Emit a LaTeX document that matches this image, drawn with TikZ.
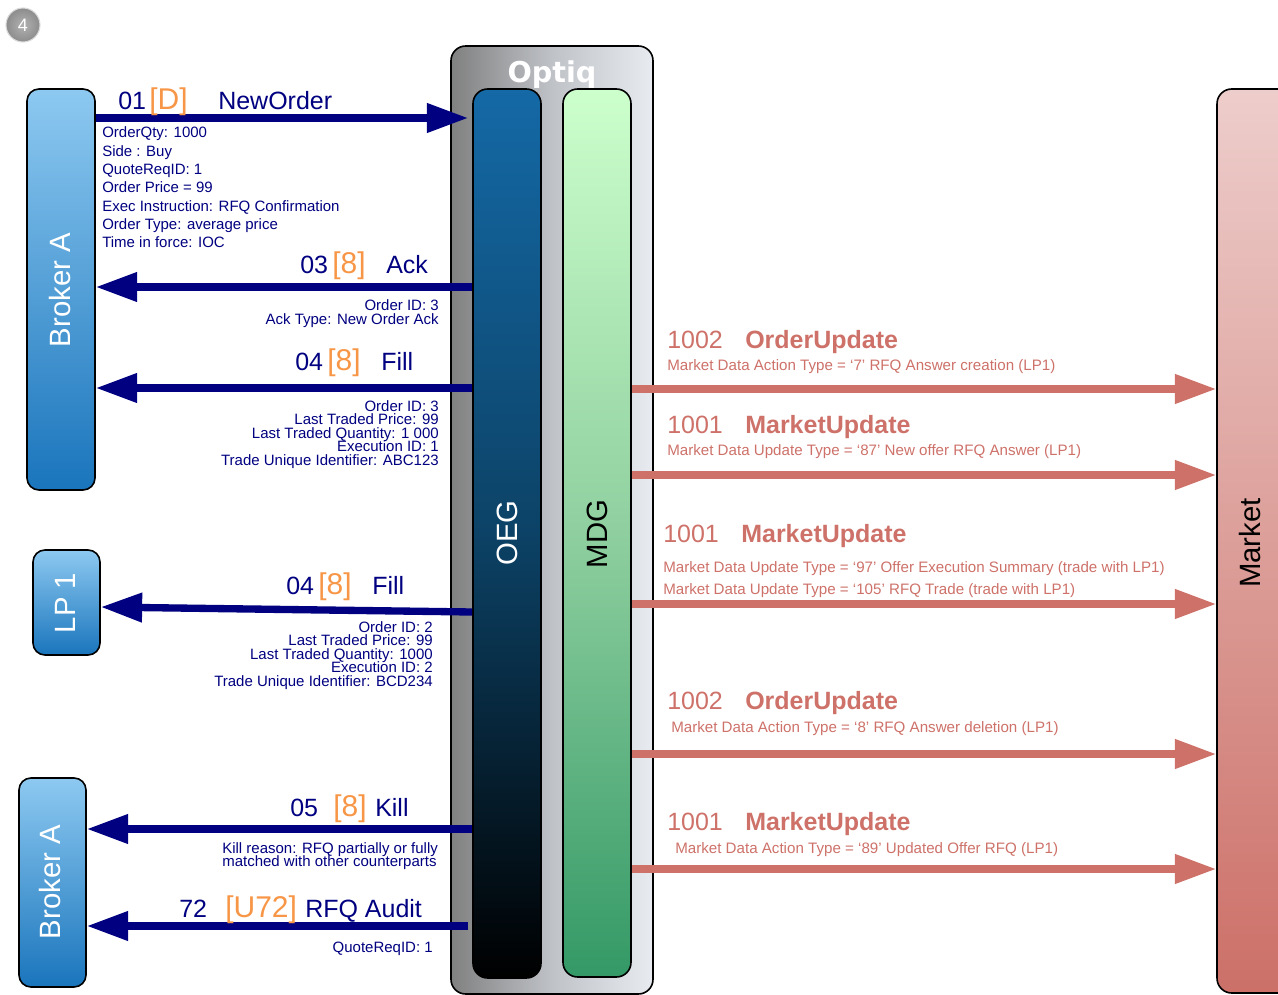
\documentclass[tikz,border=0pt]{standalone}
\usepackage{fontspec}
\setmainfont{Liberation Sans}
\newfontfamily\optiqfont{DejaVu Sans}
\usetikzlibrary{arrows.meta}
\definecolor{navyc}{HTML}{000080}
\definecolor{orangec}{HTML}{F79646}
\definecolor{redc}{HTML}{CD7169}
\definecolor{btop}{HTML}{8DC9F1}
\definecolor{bbot}{HTML}{1A75BC}
\definecolor{oegtop}{HTML}{1469A6}
\definecolor{oegmid}{HTML}{0C4266}
\definecolor{mdgtop}{HTML}{CCFFCC}
\definecolor{mdgmid}{HTML}{8FCF9F}
\definecolor{mdgbot}{HTML}{339966}
\definecolor{mkttop}{HTML}{EDCDCB}
\definecolor{mktbot}{HTML}{CC7068}
\definecolor{optl}{HTML}{808080}
\definecolor{optm}{HTML}{BFC2C7}
\definecolor{optr}{HTML}{E8ECF1}
\begin{document}
\begin{tikzpicture}[x=0.75pt,y=-0.75pt,
  box/.style={draw=black, line width=1.2pt, inner sep=0pt},
  broker/.style={box, rounded corners=9pt, top color=btop, bottom color=bbot},
  vlabel/.style={rotate=90, font=\fontsize{22}{24}\selectfont, inner sep=0pt},
  hd/.style={font=\fontsize{18.75}{20}\selectfont, inner sep=0pt, anchor=base west},
  navyhd/.style={hd, text=navyc},
  orhd/.style={hd, text=orangec, font=\fontsize{22.5}{24}\selectfont},
  redhd/.style={hd, text=redc},
  redbold/.style={hd, text=redc, font=\fontsize{18.75}{20}\selectfont\bfseries},
  det/.style={text=navyc, font=\fontsize{11.25}{13}\selectfont, inner sep=0pt},
  rdet/.style={text=redc, font=\fontsize{11.35}{13}\selectfont, inner sep=0pt, anchor=base west},
  navyarrow/.style={draw=navyc, line width=5.5pt, -{Triangle[length=31pt,width=21pt]}},
  redarrow/.style={draw=redc, line width=5.5pt, -{Triangle[length=31pt,width=21pt]}}
]
\useasboundingbox (0,0) rectangle (1278,995);

% step number
\node[circle, minimum size=25.5pt, inner sep=0pt, inner color=gray!60, outer color=gray!90,
      draw=gray!30, line width=0.8pt, text=white, font=\fontsize{13.5}{14}\selectfont] (num) at (23,25) {4};

% Optiq container
\node[box, rounded corners=11pt, minimum width=151.5pt, minimum height=711pt,
      left color=optl, right color=optr, middle color=optm] (optiq) at (552,520) {};
\node[font=\optiqfont\bfseries\fontsize{21.5}{24}\selectfont, text=white, anchor=base, inner sep=0pt] (optiqlabel) at (552,83) {Optiq};

% OEG and MDG
\node[box, rounded corners=11pt, minimum width=51pt, minimum height=666.75pt,
      top color=oegtop, bottom color=black, middle color=oegmid] (oeg) at (507,533.5) {};
\node[vlabel, text=white] (oeglabel) at (507,533) {OEG};
\node[box, rounded corners=11pt, minimum width=51pt, minimum height=666pt,
      top color=mdgtop, bottom color=mdgbot, middle color=mdgmid] (mdg) at (597,533) {};
\node[vlabel, text=black] (mdglabel) at (597,534) {MDG};

% Market
\node[box, rounded corners=11pt, minimum width=70pt, minimum height=678pt,
      top color=mkttop, bottom color=mktbot] (market) at (1263.7,541) {};
\node[vlabel, text=black] (mktlabel) at (1250,543) {Market};

% Participants
\node[broker, minimum width=51pt, minimum height=300.75pt] (brokerA) at (61,289.5) {};
\node[vlabel, text=white] (brokerAlabel) at (60,290) {Broker A};
\node[broker, minimum width=50.25pt, minimum height=78.75pt] (lp) at (66.5,602.5) {};
\node[vlabel, text=white] (lplabel) at (65,603) {LP 1};
\node[broker, minimum width=50.25pt, minimum height=156.75pt] (brokerB) at (52.5,882.5) {};
\node[vlabel, text=white] (brokerBlabel) at (50,882) {Broker A};

% Navy connectors
\draw[navyarrow, shorten >=3pt] (brokerA.east |- 0,118) -- (oeg.west |- 0,118);
\draw[navyarrow] (oeg.west |- 0,287) -- (brokerA.east |- 0,287);
\draw[navyarrow] (oeg.west |- 0,388) -- (brokerA.east |- 0,388);
\draw[navyarrow] (oeg.west |- 0,612) -- (lp.east |- 0,607);
\draw[navyarrow] (oeg.west |- 0,829) -- (brokerB.east |- 0,829);
\draw[navyarrow] ([xshift=-3pt]oeg.west |- 0,926) -- (brokerB.east |- 0,926);

% Red connectors
\foreach \yy [count=\k] in {389,475,604,754,869}
  \draw[redarrow] (mdg.east |- 0,\yy) -- (market.west |- 0,\yy);

% Navy headings
\node[navyhd] (h1a) at (118,110) {01};
\node[orhd]   (h1b) at (149,110) {[D]};
\node[navyhd] (h1c) at (218,110) {NewOrder};
\node[navyhd] (h2a) at (300,273) {03};
\node[orhd]   (h2b) at (332,273) {[8]};
\node[navyhd] (h2c) at (386,273) {Ack};
\node[navyhd] (h3a) at (295,370) {04};
\node[orhd]   (h3b) at (327,370) {[8]};
\node[navyhd] (h3c) at (381,370) {Fill};
\node[navyhd] (h4a) at (286,594) {04};
\node[orhd]   (h4b) at (318,594) {[8]};
\node[navyhd] (h4c) at (372,594) {Fill};
\node[navyhd] (h5a) at (290,816) {05};
\node[orhd]   (h5b) at (333,816) {[8]};
\node[navyhd] (h5c) at (375,816) {Kill};
\node[navyhd] (h6a) at (179,917) {72};
\node[orhd]   (h6b) at (225,917) {[U72]};
\node[navyhd] (h6c) at (305,917) {RFQ Audit};

% Navy details
\foreach \t [count=\i] in {OrderQty: 1000, Side : Buy, QuoteReqID: 1, Order Price = 99,
   Exec Instruction: RFQ Confirmation, Order Type: average price, Time in force: IOC}
  \node[det, anchor=base west] (no\i) at (102,{138+18.3*(\i-1)}) {\t};
\node[det, anchor=base east] (ack1) at (439,310) {Order ID: 3};
\node[det, anchor=base east] (ack2) at (439,324.5) {Ack Type: New Order Ack};
\foreach \t [count=\i] in {Order ID: 3, Last Traded Price: 99, Last Traded Quantity: 1 000,
   Execution ID: 1, Trade Unique Identifier: ABC123}
  \node[det, anchor=base east] (fa\i) at (439,{411.5+13.4*(\i-1)}) {\t};
\foreach \t [count=\i] in {Order ID: 2, Last Traded Price: 99, Last Traded Quantity: 1000,
   Execution ID: 2, Trade Unique Identifier: BCD234}
  \node[det, anchor=base east] (fl\i) at (433,{632.5+13.4*(\i-1)}) {\t};
\node[det, anchor=base west] (k1) at (222,853) {Kill reason: RFQ partially or fully};
\node[det, anchor=base west] (k2) at (222,866) {matched with other counterparts};
\node[det, anchor=base east] (q1) at (433,952.5) {QuoteReqID: 1};

% Red headings
\node[redhd]   (r1a) at (667,348) {1002};
\node[redbold] (r1b) at (745,348) {OrderUpdate};
\node[rdet]    (r1c) at (667,370) {Market Data Action Type = ‘7’ RFQ Answer creation (LP1)};
\node[redhd]   (r2a) at (667,433) {1001};
\node[redbold] (r2b) at (745,433) {MarketUpdate};
\node[rdet]    (r2c) at (667,455) {Market Data Update Type = ‘87’ New offer RFQ Answer (LP1)};
\node[redhd]   (r3a) at (663,542) {1001};
\node[redbold] (r3b) at (741,542) {MarketUpdate};
\node[rdet]    (r3c) at (663,572) {Market Data Update Type = ‘97’ Offer Execution Summary (trade with LP1)};
\node[rdet]    (r3d) at (663,594) {Market Data Update Type = ‘105’ RFQ Trade (trade with LP1)};
\node[redhd]   (r4a) at (667,709) {1002};
\node[redbold] (r4b) at (745,709) {OrderUpdate};
\node[rdet]    (r4c) at (671,732) {Market Data Action Type = ‘8’ RFQ Answer deletion (LP1)};
\node[redhd]   (r5a) at (667,830) {1001};
\node[redbold] (r5b) at (745,830) {MarketUpdate};
\node[rdet]    (r5c) at (675,853) {Market Data Action Type = ‘89’ Updated Offer RFQ (LP1)};
\end{tikzpicture}
\end{document}
